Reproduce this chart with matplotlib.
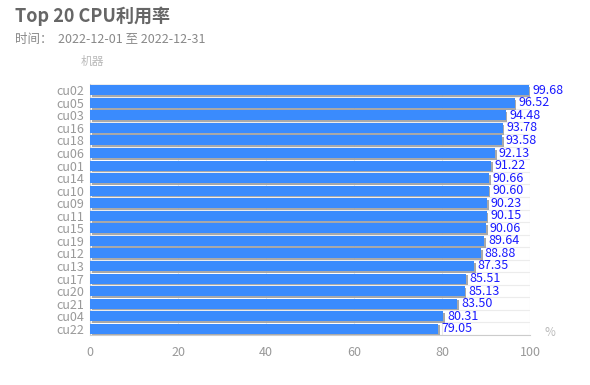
import matplotlib
matplotlib.use("Agg")
import matplotlib.pyplot as plt

plt.rcParams['font.family'] = ['Noto Sans CJK SC', 'DejaVu Sans']

machines = ["cu02", "cu05", "cu03", "cu16", "cu18", "cu06", "cu01", "cu14", "cu10", "cu09",
            "cu11", "cu15", "cu19", "cu12", "cu13", "cu17", "cu20", "cu21", "cu04", "cu22"]
values = [99.68, 96.52, 94.48, 93.78, 93.58, 92.13, 91.22, 90.66, 90.60, 90.23,
          90.15, 90.06, 89.64, 88.88, 87.35, 85.51, 85.13, 83.50, 80.31, 79.05]
xticks = [0, 20, 40, 60, 80, 100]

fig = plt.figure(figsize=(5.9, 3.85), dpi=100)
ax = fig.add_axes([90/590, 1-335/385, 440/590, 251/385])

ypos = list(range(len(machines)))
# shadow
ax.barh([y + 0.14 for y in ypos], values, height=0.8, left=0.4, color="#a0a0a0", alpha=0.9, zorder=2)
ax.barh(ypos, values, height=0.8, color="#3a8bfd", zorder=3)

for y, v in zip(ypos, values):
    ax.text(v + 0.8, y, f"{v:.2f}", va="center", ha="left", color="#1a1aff", fontsize=9, zorder=4)

ax.set_ylim(len(machines) - 0.5, -0.5)
ax.set_xlim(0, 100)
ax.set_xticks(xticks)
ax.set_yticks(ypos)
ax.set_yticklabels(machines)
ax.set_yticks([i + 0.5 for i in range(-1, len(machines))], minor=True)
ax.tick_params(axis="x", colors="#999999", labelsize=9, length=0, pad=8)
ax.tick_params(axis="y", which="both", colors="#999999", labelsize=9, length=0, pad=4)
ax.grid(axis="x", color="#e8e8e8", linewidth=0.8, zorder=0)
ax.grid(axis="y", which="minor", color="#ececec", linewidth=0.8, zorder=0)
ax.grid(axis="y", which="major", visible=False)
for s in ["top", "right"]:
    ax.spines[s].set_visible(False)
ax.spines["left"].set_color("#cccccc")
ax.spines["bottom"].set_color("#cccccc")

fig.text(15/590, 1-16/385, "Top 20 CPU利用率", fontsize=13, fontweight="bold", color="#666666", va="center", ha="left")
fig.text(15/590, 1-39/385, "时间：  2022-12-01 至 2022-12-31", fontsize=9, color="#888888", va="center", ha="left")
fig.text(92/590, 1-62/385, "机器", fontsize=8.5, color="#bbbbbb", va="center", ha="center")
fig.text(550/590, 1-333/385, "%", fontsize=8.5, color="#bbbbbb", va="center", ha="center")

fig.savefig("out.png", dpi=100)
